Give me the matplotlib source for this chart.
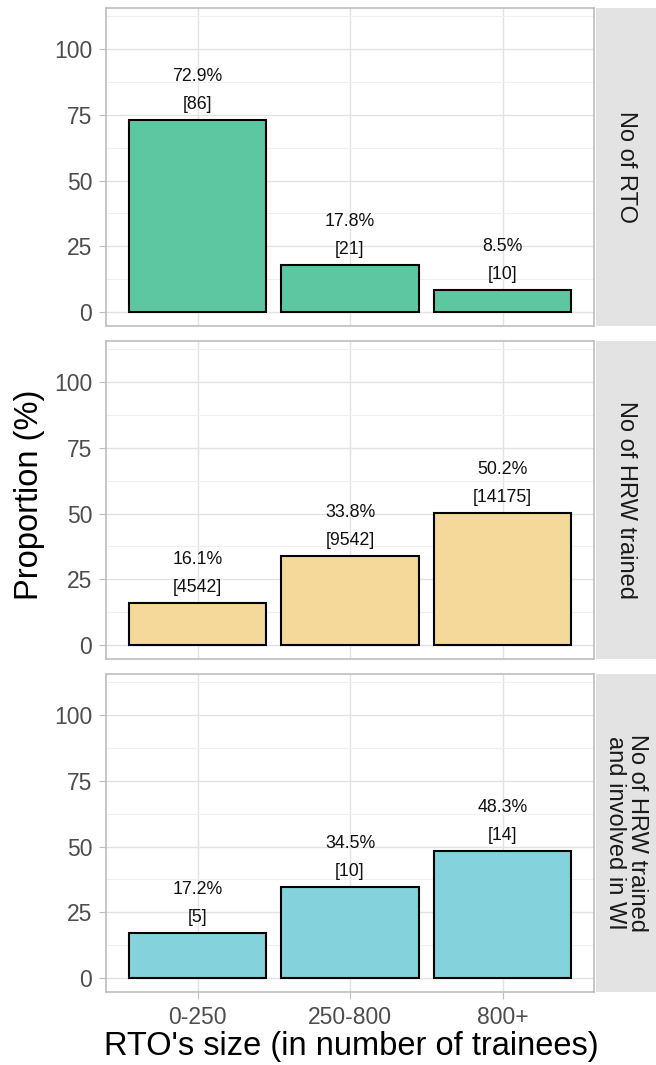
import numpy as np
import matplotlib.pyplot as plt
from matplotlib.ticker import MultipleLocator

plt.rcParams['font.family'] = ['Liberation Sans', 'DejaVu Sans']

sizes = ['0-250', '250-800', '800+']
facets = ['No of RTO', 'No of HRW trained', 'No of HRW trained\nand involved in WI']
pct = [[72.9, 17.8, 8.5],
       [16.1, 33.8, 50.2],
       [17.2, 34.5, 48.3]]
counts = [[86, 21, 10],
          [4542, 9542, 14175],
          [5, 10, 14]]
colors = ['#5DC7A2', '#F5D99A', '#84D3DC']

fig = plt.figure(figsize=(6.56, 10.65), dpi=100)
W, H = 656.0, 1065.0
tops = [8, 341, 674]
ph = 318
x = np.arange(1, len(sizes) + 1)

for i in range(3):
    ax = fig.add_axes([106 / W, 1 - (tops[i] + ph) / H, 488 / W, ph / H])
    ax.bar(x, pct[i], width=0.9, color=colors[i], edgecolor='black', linewidth=1.5, zorder=3)
    for xi, p, c in zip(x, pct[i], counts[i]):
        ax.annotate('%.1f%%\n[%d]' % (p, c), (xi, p), xytext=(0, 5), textcoords='offset points',
                    ha='center', va='bottom', fontsize=12.8, linespacing=1.85, color='#111111', zorder=4)
    ax.set_xlim(0.4, 3.6)
    ax.set_ylim(-5.3, 115.6)
    ax.yaxis.set_major_locator(MultipleLocator(25))
    ax.yaxis.set_minor_locator(MultipleLocator(12.5))
    ax.set_yticks([0, 25, 50, 75, 100])
    ax.grid(True, which='major', color='#E3E3E3', linewidth=1.0, zorder=0)
    ax.grid(True, which='minor', axis='y', color='#F0F0F0', linewidth=0.8, zorder=0)
    ax.set_axisbelow(True)
    for s in ax.spines.values():
        s.set_color('#BDBDBD')
        s.set_linewidth(1.2)
    ax.tick_params(axis='both', which='major', length=5, pad=5, color='#BDBDBD', labelsize=16.5, labelcolor='#4D4D4D')
    ax.tick_params(axis='both', which='minor', length=0)
    ax.set_xticks(x)
    if i == 2:
        ax.set_xticklabels(sizes)
    else:
        ax.set_xticklabels([])
        ax.tick_params(axis='x', length=0)

    sax = fig.add_axes([596 / W, 1 - (tops[i] + ph) / H, 60 / W, ph / H])
    sax.set_facecolor('#E3E3E3')
    sax.set_xticks([])
    sax.set_yticks([])
    for s in sax.spines.values():
        s.set_visible(False)
    sax.text(0.5, 0.5, facets[i], rotation=-90, ha='center', va='center', fontsize=17,
             color='#1A1A1A', linespacing=1.0, transform=sax.transAxes)

fig.text(30 / W, 1 - 495 / H, 'Proportion (%)', rotation=90, ha='center', va='center', fontsize=23.5)
fig.text(351 / W, 1 - 1046 / H, "RTO's size (in number of trainees)", ha='center', va='center', fontsize=23.5)

fig.savefig('out.png', dpi=100)
